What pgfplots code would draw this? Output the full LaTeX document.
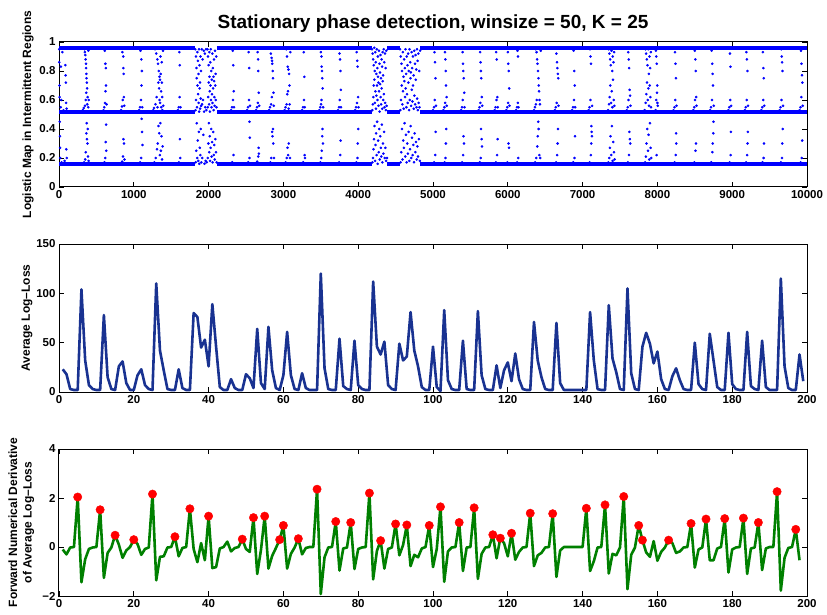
\documentclass[border=0pt]{standalone}
\usepackage{fontspec}
\setmainfont{Liberation Sans}
\usepackage{pgfplots}
\pgfplotsset{compat=1.18}
\definecolor{dotblue}{rgb}{0,0,1}
\definecolor{navyline}{RGB}{25,50,145}
\definecolor{gline}{RGB}{0,128,0}
\pgfplotsset{
  myax/.style={
    scale only axis, width=748pt, anchor=south west,
    axis line style={line width=1pt, black},
    tick style={line width=0.8pt, black},
    major tick length=5pt,
    tick align=inside,
    scaled ticks=false,
    ticklabel style={font=\fontsize{11.5}{12}\selectfont\bfseries},
    label style={font=\fontsize{12}{14.5}\selectfont\bfseries},
  }
}
\begin{document}
\begin{tikzpicture}
\path[use as bounding box] (0pt,0pt) rectangle (827pt,614pt);
% ---------------- top panel ----------------
\begin{axis}[myax, at={(59pt,427pt)}, height=145pt,
  xmin=0, xmax=10000, ymin=0, ymax=1,
  xtick={0,1000,2000,3000,4000,5000,6000,7000,8000,9000,10000},
  xticklabels={0,1000,2000,3000,4000,5000,6000,7000,8000,9000,10000},
  ytick={0,0.2,0.4,0.6,0.8,1},
  yticklabels={0,0.2,0.4,0.6,0.8,1},
  title={Stationary phase detection, winsize = 50, K = 25},
  title style={font=\fontsize{19}{21}\selectfont\bfseries, anchor=base, yshift=7pt},
  ylabel={Logistic Map in Intermittent Regions},
  ylabel style={at={(axis description cs:-0.0414,0.5)}, anchor=center},
  unbounded coords=jump]
\addplot[dotblue, line width=3.6pt, line cap=butt] coordinates {
 (0,0.959)(1822,0.959)(1823,nan)(2110,0.959)(4185,0.959)(4186,nan)(4385,0.959)(4560,0.959)(4561,nan)(4830,0.959)(10000,0.959)};
\addplot[dotblue, line width=3.6pt, line cap=butt] coordinates {
 (0,0.517)(1822,0.517)(1823,nan)(2110,0.517)(4185,0.517)(4186,nan)(4385,0.517)(4560,0.517)(4561,nan)(4830,0.517)(10000,0.517)};
\addplot[dotblue, line width=3.6pt, line cap=butt] coordinates {
 (0,0.158)(1822,0.158)(1823,nan)(2110,0.158)(4185,0.158)(4186,nan)(4385,0.158)(4560,0.158)(4561,nan)(4830,0.158)(10000,0.158)};
\addplot[only marks, mark=*, mark size=1.1pt, dotblue, mark options={draw=dotblue, fill=dotblue}] coordinates {
(2,0.95)(4,0.86)(6,0.70)(8,0.62)(10,0.45)(12,0.35)(14,0.27)(18,0.20)(22,0.55)(26,0.83)(30,0.60)(35,0.17)(45,0.93)(60,0.53)(75,0.18)(85,0.84)(88,0.77)(92,0.72)(95,0.58)(98,0.26)(102,0.54)(105,0.20)
(320,0.53)(330,0.545)(335,0.17)(340,0.95)(345,0.93)(348,0.56)(350,0.19)(352,0.91)(355,0.88)(357,0.60)(358,0.24)(360,0.85)(362,0.82)(363,0.65)(365,0.37)(367,0.78)(369,0.75)(370,0.44)(372,0.72)(374,0.33)(375,0.68)(378,0.57)(380,0.30)(382,0.62)(385,0.40)(388,0.21)(390,0.55)(393,0.94)(395,0.18)(398,0.60)
(595,0.53)(605,0.55)(608,0.17)(612,0.94)(615,0.58)(617,0.20)(620,0.85)(622,0.66)(624,0.31)(626,0.82)(628,0.70)(630,0.43)(633,0.25)(636,0.57)
(830,0.53)(842,0.555)(845,0.175)(848,0.93)(852,0.6)(855,0.21)(858,0.9)(860,0.82)(862,0.33)(865,0.78)(867,0.62)(870,0.30)(873,0.56)(876,0.19)
(1070,0.53)(1082,0.55)(1085,0.17)(1090,0.94)(1095,0.6)(1098,0.2)(1100,0.88)(1103,0.70)(1105,0.47)(1108,0.8)(1110,0.38)(1113,0.55)(1116,0.29)
(1260,0.53)(1270,0.545)(1275,0.17)(1285,0.95)(1290,0.57)(1292,0.2)(1300,0.92)(1305,0.62)(1310,0.26)(1315,0.88)(1318,0.55)(1320,0.3)(1325,0.85)(1328,0.72)(1330,0.42)(1335,0.8)(1338,0.68)(1340,0.37)(1343,0.76)(1345,0.6)(1348,0.22)(1350,0.74)(1352,0.58)(1355,0.44)(1358,0.9)(1360,0.78)(1362,0.25)(1365,0.66)(1368,0.55)(1370,0.35)(1373,0.86)(1376,0.72)(1378,0.19)(1380,0.62)(1383,0.53)(1386,0.28)(1390,0.94)(1393,0.56)
(1590,0.53)(1600,0.55)(1603,0.17)(1608,0.93)(1612,0.62)(1615,0.84)(1617,0.33)(1620,0.2)(1623,0.55)
(1822,0.95)(1825,0.53)(1828,0.17)(1830,0.9)(1833,0.6)(1835,0.25)(1838,0.82)(1840,0.75)(1842,0.44)(1845,0.55)(1847,0.2)(1850,0.93)(1852,0.7)(1855,0.32)(1857,0.87)(1860,0.64)(1862,0.18)(1865,0.78)(1867,0.58)(1869,0.38)(1872,0.95)(1874,0.52)(1876,0.16)(1878,0.84)(1880,0.68)(1882,0.27)(1885,0.72)(1887,0.54)(1889,0.22)(1892,0.9)(1894,0.61)(1896,0.4)(1898,0.8)(1900,0.56)(1903,0.17)
(1908,0.95)(1912,0.57)(1915,0.2)(1920,0.88)(1925,0.6)(1930,0.36)(1935,0.94)(1940,0.52)(1945,0.16)(1950,0.92)(1955,0.55)(1960,0.18)(1965,0.95)(1970,0.53)(1975,0.17)
(1985,0.95)(1988,0.55)(1990,0.2)(1993,0.9)(1995,0.62)(1997,0.3)(2000,0.84)(2002,0.72)(2004,0.44)(2006,0.57)(2008,0.24)(2010,0.93)(2012,0.76)(2014,0.35)(2016,0.66)(2018,0.52)(2020,0.18)(2023,0.86)(2025,0.7)(2027,0.27)(2030,0.95)(2032,0.6)(2034,0.4)(2036,0.8)(2038,0.55)(2040,0.21)(2043,0.74)(2045,0.64)(2047,0.31)(2050,0.92)(2052,0.58)(2054,0.17)(2057,0.82)(2060,0.68)(2062,0.38)(2065,0.76)(2067,0.53)(2069,0.22)(2072,0.88)(2074,0.73)(2076,0.29)(2078,0.62)(2080,0.56)(2082,0.19)(2085,0.94)(2088,0.7)(2090,0.33)(2093,0.78)(2096,0.6)(2099,0.24)(2102,0.9)(2105,0.55)(2108,0.17)
(2300,0.53)(2312,0.55)(2316,0.17)(2322,0.94)(2326,0.6)(2330,0.84)(2333,0.22)(2336,0.66)(2340,0.55)
(2515,0.53)(2527,0.55)(2530,0.17)(2536,0.93)(2540,0.6)(2543,0.82)(2546,0.2)(2548,0.45)(2551,0.34)(2554,0.56)
(2635,0.53)(2647,0.55)(2650,0.175)(2655,0.93)(2658,0.58)(2661,0.88)(2663,0.21)(2665,0.8)(2668,0.27)(2670,0.65)(2673,0.23)(2676,0.56)
(2810,0.53)(2822,0.55)(2825,0.17)(2832,0.92)(2835,0.57)(2838,0.2)(2842,0.89)(2845,0.62)(2848,0.87)(2850,0.38)(2852,0.85)(2855,0.35)(2858,0.8)(2860,0.4)(2862,0.75)(2865,0.3)(2868,0.65)(2871,0.56)(2874,0.2)
(3015,0.53)(3027,0.55)(3030,0.17)(3038,0.95)(3042,0.57)(3045,0.2)(3048,0.9)(3052,0.64)(3055,0.27)(3058,0.83)(3061,0.66)(3064,0.22)(3067,0.81)(3070,0.54)(3073,0.3)(3076,0.78)(3080,0.7)(3084,0.57)(3088,0.2)(3092,0.93)
(3250,0.53)(3262,0.55)(3265,0.17)(3272,0.93)(3276,0.6)(3280,0.76)(3283,0.22)(3286,0.55)(3289,0.2)
(3480,0.53)(3492,0.55)(3495,0.17)(3500,0.93)(3503,0.57)(3505,0.2)(3508,0.9)(3510,0.6)(3512,0.83)(3514,0.25)(3516,0.8)(3518,0.35)(3520,0.75)(3522,0.4)(3525,0.68)(3528,0.3)(3531,0.55)
(3730,0.53)(3742,0.55)(3745,0.17)(3750,0.92)(3754,0.6)(3757,0.88)(3760,0.22)(3762,0.8)(3765,0.32)(3768,0.67)(3771,0.55)
(3960,0.53)(3972,0.55)(3975,0.17)(3980,0.93)(3984,0.58)(3987,0.87)(3990,0.2)(3992,0.83)(3995,0.3)(3998,0.62)(4001,0.4)(4004,0.55)
(4185,0.95)(4188,0.53)(4190,0.17)(4193,0.92)(4195,0.57)(4197,0.2)(4200,0.88)(4202,0.62)(4204,0.26)(4207,0.84)(4209,0.7)(4211,0.33)(4214,0.96)(4216,0.74)(4218,0.42)(4221,0.8)(4223,0.58)(4225,0.18)(4228,0.93)(4230,0.66)(4232,0.29)(4235,0.86)(4237,0.54)(4239,0.37)(4242,0.78)(4244,0.63)(4246,0.22)(4249,0.95)(4251,0.7)(4253,0.45)(4256,0.82)(4258,0.6)(4260,0.16)(4263,0.9)(4265,0.76)(4267,0.32)(4270,0.72)(4272,0.56)(4274,0.24)(4277,0.94)(4279,0.66)(4281,0.4)(4284,0.85)(4286,0.52)(4288,0.19)(4291,0.79)(4293,0.71)(4295,0.35)(4298,0.91)(4300,0.62)(4302,0.27)(4305,0.75)(4307,0.57)(4309,0.21)(4312,0.88)(4314,0.68)(4316,0.43)(4319,0.83)(4321,0.54)(4323,0.17)(4326,0.93)(4328,0.73)(4330,0.3)(4333,0.77)(4335,0.6)(4337,0.23)(4340,0.95)(4343,0.64)(4346,0.38)(4349,0.86)(4352,0.55)(4355,0.2)(4358,0.92)(4361,0.58)(4364,0.27)(4367,0.82)(4370,0.53)(4373,0.18)(4376,0.94)(4380,0.56)(4384,0.2)
(4560,0.95)(4563,0.53)(4566,0.17)(4569,0.9)(4572,0.6)(4575,0.24)(4578,0.85)(4581,0.7)(4584,0.4)(4587,0.8)(4590,0.57)(4593,0.19)(4596,0.93)(4599,0.66)(4602,0.32)(4605,0.76)(4608,0.54)(4611,0.27)(4614,0.88)(4617,0.73)(4620,0.44)(4623,0.82)(4626,0.62)(4629,0.21)(4632,0.95)(4635,0.68)(4638,0.36)(4641,0.78)(4644,0.55)(4647,0.17)(4650,0.9)(4653,0.64)(4656,0.3)(4659,0.84)(4662,0.58)(4665,0.23)(4668,0.92)(4671,0.72)(4674,0.38)(4677,0.8)(4680,0.53)(4683,0.18)(4686,0.95)(4689,0.6)(4692,0.26)(4695,0.86)(4698,0.75)(4701,0.42)(4704,0.79)(4707,0.56)(4710,0.2)(4713,0.93)(4716,0.67)(4719,0.34)(4722,0.82)(4725,0.59)(4728,0.22)(4731,0.9)(4734,0.7)(4737,0.29)(4740,0.77)(4743,0.54)(4746,0.17)(4749,0.94)(4752,0.63)(4755,0.37)(4758,0.85)(4761,0.57)(4764,0.24)(4767,0.91)(4770,0.74)(4773,0.31)(4776,0.81)(4779,0.55)(4782,0.19)(4785,0.95)(4788,0.61)(4791,0.28)(4794,0.87)(4797,0.53)(4800,0.21)(4804,0.92)(4808,0.58)(4812,0.33)(4816,0.8)(4820,0.55)(4824,0.18)(4828,0.94)
(5000,0.53)(5012,0.55)(5015,0.17)(5020,0.93)(5024,0.6)(5027,0.86)(5030,0.22)(5033,0.75)(5036,0.38)(5040,0.56)
(5140,0.53)(5152,0.55)(5155,0.17)(5160,0.93)(5163,0.58)(5166,0.88)(5168,0.2)(5170,0.8)(5172,0.3)(5175,0.7)(5178,0.4)(5181,0.62)(5184,0.56)
(5375,0.53)(5387,0.55)(5390,0.17)(5395,0.93)(5398,0.6)(5401,0.85)(5403,0.22)(5405,0.8)(5408,0.35)(5411,0.75)(5414,0.3)(5417,0.65)(5420,0.55)
(5610,0.53)(5622,0.55)(5625,0.17)(5630,0.93)(5633,0.58)(5636,0.86)(5638,0.2)(5640,0.8)(5643,0.4)(5646,0.75)(5649,0.33)(5652,0.62)(5655,0.28)(5658,0.56)
(5825,0.53)(5837,0.55)(5840,0.17)(5845,0.93)(5849,0.6)(5852,0.88)(5856,0.22)(5860,0.62)(5863,0.33)(5866,0.55)
(5980,0.53)(5992,0.55)(5995,0.17)(6000,0.93)(6004,0.58)(6007,0.85)(6010,0.3)(6013,0.8)(6016,0.27)(6019,0.68)(6022,0.56)
(6110,0.53)(6122,0.55)(6125,0.17)(6130,0.94)(6134,0.58)(6137,0.9)(6140,0.2)(6143,0.55)
(6350,0.53)(6362,0.55)(6365,0.17)(6372,0.95)(6376,0.57)(6380,0.2)(6384,0.93)(6388,0.6)(6391,0.88)(6394,0.28)(6397,0.85)(6400,0.35)(6403,0.8)(6406,0.45)(6409,0.75)(6412,0.4)(6415,0.7)(6418,0.66)(6421,0.22)(6425,0.6)(6430,0.57)(6435,0.2)(6440,0.94)
(6630,0.53)(6642,0.55)(6645,0.17)(6650,0.92)(6654,0.58)(6657,0.86)(6660,0.22)(6663,0.82)(6666,0.3)(6669,0.78)(6672,0.4)(6675,0.75)(6678,0.56)
(6860,0.53)(6872,0.55)(6875,0.17)(6880,0.94)(6884,0.6)(6888,0.8)(6891,0.2)(6894,0.7)(6897,0.35)(6900,0.55)
(7080,0.53)(7092,0.55)(7095,0.17)(7100,0.95)(7104,0.6)(7107,0.9)(7110,0.22)(7112,0.85)(7115,0.3)(7118,0.42)(7121,0.38)(7124,0.35)(7127,0.56)
(7340,0.53)(7345,0.17)(7350,0.95)(7353,0.57)(7356,0.2)(7359,0.92)(7362,0.62)(7365,0.27)(7368,0.88)(7371,0.7)(7374,0.35)(7377,0.84)(7380,0.58)(7383,0.22)(7386,0.94)(7389,0.66)(7392,0.42)(7395,0.8)(7398,0.55)(7401,0.18)(7404,0.9)(7407,0.74)(7410,0.31)(7413,0.86)(7416,0.6)(7419,0.24)(7422,0.93)(7425,0.56)(7428,0.19)
(7590,0.53)(7602,0.55)(7605,0.17)(7610,0.93)(7614,0.6)(7617,0.88)(7620,0.22)(7622,0.82)(7625,0.38)(7628,0.67)(7631,0.33)(7634,0.63)(7637,0.3)(7640,0.56)
(7830,0.53)(7835,0.17)(7840,0.95)(7843,0.58)(7846,0.21)(7849,0.92)(7852,0.64)(7855,0.3)(7858,0.88)(7861,0.72)(7864,0.4)(7867,0.84)(7870,0.6)(7873,0.25)(7876,0.95)(7879,0.68)(7882,0.36)(7885,0.78)(7888,0.56)(7891,0.19)(7894,0.9)(7897,0.7)(7900,0.44)(7903,0.82)(7906,0.62)(7909,0.27)(7912,0.93)(7915,0.55)(7918,0.2)
(7975,0.53)(7980,0.94)(7983,0.6)(7986,0.9)(7989,0.22)(7992,0.85)(7995,0.65)(7998,0.7)(8001,0.58)(8004,0.56)
(8215,0.53)(8227,0.55)(8230,0.17)(8235,0.93)(8239,0.6)(8242,0.85)(8245,0.22)(8247,0.75)(8250,0.37)(8253,0.3)(8256,0.56)
(8480,0.53)(8492,0.55)(8495,0.17)(8500,0.94)(8504,0.6)(8507,0.88)(8510,0.25)(8513,0.8)(8516,0.3)(8519,0.62)(8522,0.56)
(8705,0.53)(8717,0.55)(8720,0.17)(8725,0.94)(8729,0.6)(8732,0.85)(8735,0.24)(8738,0.78)(8741,0.3)(8744,0.7)(8747,0.37)(8750,0.45)(8753,0.56)
(8950,0.53)(8962,0.55)(8965,0.17)(8970,0.92)(8974,0.6)(8977,0.83)(8980,0.22)(8983,0.38)(8986,0.56)
(9170,0.53)(9182,0.55)(9185,0.17)(9190,0.93)(9194,0.6)(9197,0.88)(9200,0.22)(9203,0.8)(9206,0.3)(9209,0.38)(9212,0.56)
(9390,0.53)(9402,0.55)(9405,0.17)(9410,0.93)(9414,0.6)(9417,0.82)(9420,0.2)(9423,0.75)(9426,0.3)(9429,0.56)
(9635,0.53)(9647,0.55)(9650,0.17)(9655,0.95)(9659,0.6)(9662,0.9)(9665,0.2)(9667,0.86)(9670,0.3)(9673,0.8)(9676,0.4)(9680,0.56)
(9900,0.53)(9912,0.55)(9915,0.17)(9920,0.94)(9924,0.62)(9927,0.85)(9930,0.2)(9933,0.77)(9936,0.32)(9939,0.72)(9942,0.56)
};
\end{axis}
% ---------------- middle panel ----------------
\begin{axis}[myax, at={(59pt,222pt)}, height=148pt,
  xmin=0, xmax=200, ymin=0, ymax=150,
  xtick={0,20,40,60,80,100,120,140,160,180,200},
  xticklabels={0,20,40,60,80,100,120,140,160,180,200},
  ytick={0,50,100,150}, yticklabels={0,50,100,150},
  ylabel={Average Log–Loss},
  ylabel style={at={(axis description cs:-0.0428,0.5)}, anchor=center}]
\addplot[navyline, line width=2.6pt, line join=round] coordinates {
(1,23)(2,18)(3,3)(4,2)(5,2)(6,104)(7,32)(8,7)(9,3)(10,2)(11,2)(12,78)(13,15)(14,3)(15,2)(16,26)(17,31)(18,9)(19,2)(20,2)(21,17)(22,23)(23,7)(24,3)(25,2)(26,110)(27,42)(28,22)(29,3)(30,2)(31,2)(32,23)(33,4)(34,2)(35,2)(36,80)(37,76)(38,45)(39,53)(40,26)(41,89)(42,46)(43,5)(44,2)(45,2)(46,13)(47,4)(48,2)(49,2)(50,18)(51,14)(52,4)(53,64)(54,9)(55,3)(56,66)(57,22)(58,4)(59,2)(60,17)(61,61)(62,17)(63,3)(64,2)(65,19)(66,4)(67,2)(68,2)(69,2)(70,120)(71,24)(72,3)(73,2)(74,2)(75,54)(76,6)(77,3)(78,2)(79,52)(80,7)(81,3)(82,2)(83,2)(84,112)(85,46)(86,38)(87,51)(88,7)(89,3)(90,2)(91,49)(92,32)(93,36)(94,81)(95,42)(96,26)(97,5)(98,2)(99,2)(100,46)(101,5)(102,1)(103,83)(104,12)(105,3)(106,2)(107,2)(108,52)(109,3)(110,2)(111,2)(112,82)(113,17)(114,3)(115,2)(116,2)(117,27)(118,4)(119,22)(120,30)(121,11)(122,39)(123,13)(124,3)(125,2)(126,2)(127,71)(128,32)(129,15)(130,3)(131,2)(132,2)(133,70)(134,9)(135,2)(136,2)(137,2)(138,2)(139,2)(140,2)(141,2)(142,81)(143,32)(144,3)(145,2)(146,2)(147,88)(148,34)(149,20)(150,3)(151,2)(152,105)(153,19)(154,3)(155,2)(156,46)(157,60)(158,49)(159,29)(160,41)(161,13)(162,3)(163,2)(164,16)(165,24)(166,12)(167,3)(168,2)(169,2)(170,50)(171,8)(172,3)(173,2)(174,59)(175,32)(176,5)(177,2)(178,2)(179,60)(180,8)(181,3)(182,2)(183,2)(184,61)(185,6)(186,3)(187,2)(188,52)(189,5)(190,2)(191,2)(192,2)(193,115)(194,26)(195,4)(196,2)(197,2)(198,38)(199,11)};
\end{axis}
% ---------------- bottom panel ----------------
\begin{axis}[myax, at={(59pt,18pt)}, height=147pt,
  xmin=0, xmax=200, ymin=-2, ymax=4,
  xtick={0,20,40,60,80,100,120,140,160,180,200},
  xticklabels={0,20,40,60,80,100,120,140,160,180,200},
  ytick={-2,0,2,4}, yticklabels={−2,0,2,4},
  ylabel={Forward Numerical Derivative\\of Average Log–Loss},
  ylabel style={at={(axis description cs:-0.0505,0.5)}, anchor=center, align=center}]
\addplot[gline, line width=2.6pt, line join=round] coordinates {
(1,-0.10)(2,-0.30)(3,-0.02)(4,0)(5,2.04)(6,-1.44)(7,-0.50)(8,-0.08)(9,-0.02)(10,0)(11,1.52)(12,-1.26)(13,-0.24)(14,-0.02)(15,0.48)(16,0.10)(17,-0.44)(18,-0.14)(19,0)(20,0.30)(21,0.12)(22,-0.32)(23,-0.08)(24,-0.02)(25,2.16)(26,-1.36)(27,-0.40)(28,-0.38)(29,-0.02)(30,0)(31,0.42)(32,-0.38)(33,-0.04)(34,0)(35,1.56)(36,-0.08)(37,-0.62)(38,0.16)(39,-0.54)(40,1.26)(41,-0.86)(42,-0.82)(43,-0.06)(44,0)(45,0.22)(46,-0.18)(47,-0.04)(48,0)(49,0.32)(50,-0.08)(51,-0.20)(52,1.20)(53,-1.10)(54,-0.12)(55,1.26)(56,-0.88)(57,-0.36)(58,-0.04)(59,0.30)(60,0.88)(61,-0.88)(62,-0.28)(63,-0.02)(64,0.34)(65,-0.30)(66,-0.04)(67,0)(68,0)(69,2.36)(70,-1.92)(71,-0.42)(72,-0.02)(73,0)(74,1.04)(75,-0.96)(76,-0.06)(77,-0.02)(78,1.00)(79,-0.90)(80,-0.08)(81,-0.02)(82,0)(83,2.20)(84,-1.32)(85,-0.16)(86,0.26)(87,-0.88)(88,-0.08)(89,-0.02)(90,0.94)(91,-0.34)(92,0.08)(93,0.90)(94,-0.78)(95,-0.32)(96,-0.42)(97,-0.06)(98,0)(99,0.88)(100,-0.82)(101,-0.08)(102,1.64)(103,-1.42)(104,-0.18)(105,-0.02)(106,0)(107,1.00)(108,-0.98)(109,-0.02)(110,0)(111,1.60)(112,-1.30)(113,-0.28)(114,-0.02)(115,0)(116,0.50)(117,-0.46)(118,0.36)(119,0.16)(120,-0.38)(121,0.56)(122,-0.52)(123,-0.20)(124,-0.02)(125,0)(126,1.38)(127,-0.78)(128,-0.34)(129,-0.24)(130,-0.02)(131,0)(132,1.36)(133,-1.22)(134,-0.14)(135,0)(136,0)(137,0)(138,0)(139,0)(140,0)(141,1.58)(142,-0.98)(143,-0.58)(144,-0.02)(145,0)(146,1.72)(147,-1.08)(148,-0.28)(149,-0.34)(150,-0.02)(151,2.06)(152,-1.72)(153,-0.32)(154,-0.02)(155,0.88)(156,0.28)(157,-0.22)(158,-0.40)(159,0.24)(160,-0.56)(161,-0.20)(162,-0.02)(163,0.28)(164,0.16)(165,-0.24)(166,-0.18)(167,-0.02)(168,0)(169,0.96)(170,-0.84)(171,-0.10)(172,-0.02)(173,1.14)(174,-0.54)(175,-0.54)(176,-0.06)(177,0)(178,1.16)(179,-1.04)(180,-0.10)(181,-0.02)(182,0)(183,1.18)(184,-1.10)(185,-0.06)(186,-0.02)(187,1.00)(188,-0.94)(189,-0.06)(190,0)(191,0)(192,2.26)(193,-1.78)(194,-0.44)(195,-0.04)(196,0)(197,0.72)(198,-0.54)};
\addplot[only marks, mark=*, mark size=4.2pt, mark options={draw=red, fill=red}] coordinates {
(5,2.04)(11,1.52)(15,0.48)(20,0.30)(25,2.16)(31,0.42)(35,1.56)(40,1.26)(49,0.32)(52,1.20)(55,1.26)(59,0.30)(60,0.88)(64,0.34)(69,2.36)(74,1.04)(78,1.00)(83,2.20)(86,0.26)(90,0.94)(93,0.90)(99,0.88)(102,1.64)(107,1.00)(111,1.60)(116,0.50)(118,0.36)(121,0.56)(126,1.38)(132,1.36)(141,1.58)(146,1.72)(151,2.06)(155,0.88)(156,0.28)(163,0.28)(169,0.96)(173,1.14)(178,1.16)(183,1.18)(187,1.00)(192,2.26)(197,0.72)};
\end{axis}
\end{tikzpicture}
\end{document}
